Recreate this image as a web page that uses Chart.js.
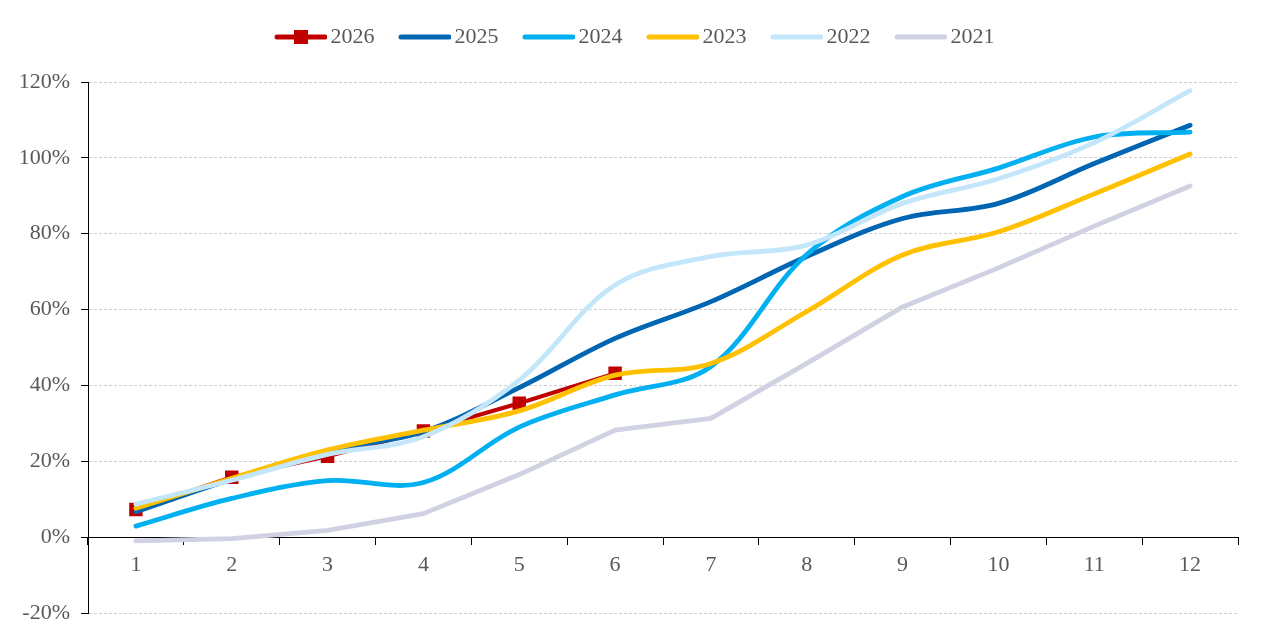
<!DOCTYPE html>
<html>
<head>
<meta charset="utf-8">
<script src="https://cdn.jsdelivr.net/npm/chart.js@4"></script>
<style>
  html, body { margin: 0; padding: 0; background: #fff; }
</style>
</head>
<body>
<canvas id="chart" width="1265" height="640"></canvas>
<script>
// months on the x axis
const months = ['1', '2', '3', '4', '5', '6', '7', '8', '9', '10', '11', '12'];

// cumulative % per year
const y2026 = [7.3, 15.8, 21.3, 28.0, 35.3, 43.2];
const y2025 = [6.7, 15.3, 22.8, 27.8, 39.4, 52.4, 62.1, 74.0, 84.0, 88.0, 98.5, 108.6];
const y2024 = [2.9, 10.2, 14.9, 14.4, 29.0, 37.5, 45.0, 74.5, 89.8, 97.3, 105.5, 106.8];
const y2023 = [7.6, 15.5, 23.0, 28.2, 33.3, 42.7, 45.8, 59.5, 74.4, 80.5, 90.5, 101.0];
const y2022 = [8.7, 15.0, 21.8, 26.5, 41.4, 66.5, 74.0, 77.0, 88.0, 94.5, 104.0, 117.7];
const y2021 = [-1.0, -0.4, 1.8, 6.2, 16.5, 28.2, 31.3, 45.8, 60.7, 71.0, 82.0, 92.6];

const seriesNames = ['2026', '2025', '2024', '2023', '2022', '2021'];
const seriesData = [y2026, y2025, y2024, y2023, y2022, y2021];
const seriesColors = ['#C00000', '#0066B3', '#00B0F0', '#FFC000', '#C3E6FB', '#D0D2E3'];

const yTicks = { min: -20, max: 120, step: 20 };

const FONT = { family: '"Liberation Serif", "Times New Roman", serif', size: 22 };
const TEXT_COLOR = '#595959';

// legend sample: a short thick line (plus square marker for 2026)
function makeIcon(color, withMarker) {
    const c = document.createElement('canvas');
    c.width = 74;
    c.height = 16;
    const g = c.getContext('2d');
    g.strokeStyle = color;
    g.lineWidth = 5;
    g.lineCap = 'round';
    g.beginPath();
    g.moveTo(24, 8);
    g.lineTo(72, 8);
    g.stroke();
    if (withMarker) {
        g.fillStyle = color;
        g.fillRect(41, 1, 14, 14);
    }
    return c;
}
const legendIcons = seriesNames.map((n, i) => makeIcon(seriesColors[i], i === 0));

const datasets = seriesNames.map((name, i) => ({
    label: name,
    data: seriesData[i],
    borderColor: seriesColors[i],
    backgroundColor: seriesColors[i],
    borderWidth: i === 0 ? 4 : 4.8,
    borderCapStyle: 'round',
    borderJoinStyle: 'round',
    tension: (i === 0 || i === 5) ? 0 : 0.35,
    pointStyle: 'rect',
    pointRadius: i === 0 ? 9.5 : 0,
    pointBorderWidth: 0,
    pointHoverRadius: 0,
    order: seriesNames.length - i,   // later years drawn on top
    fill: false
}));

const legendSpace = {
    id: 'legendSpace',
    beforeInit(chart) {
        const fit = chart.legend.fit;
        chart.legend.fit = function() {
            fit.bind(chart.legend)();
            this.height += 24;
        };
    }
};

new Chart(document.getElementById('chart'), {
    type: 'line',
    data: { labels: months, datasets: datasets },
    plugins: [legendSpace],
    options: {
        responsive: false,
        animation: false,
        layout: { padding: { top: 16, right: 27, bottom: 27, left: 17 } },
        plugins: {
            tooltip: { enabled: false },
            legend: {
                position: 'top',
                labels: {
                    usePointStyle: true,
                    pointStyleWidth: 59,
                    boxHeight: 16,
                    padding: 10,
                    color: TEXT_COLOR,
                    font: FONT,
                    sort: (a, b) => a.datasetIndex - b.datasetIndex,
                    generateLabels: (chart) => Chart.defaults.plugins.legend.labels.generateLabels(chart)
                        .map(l => Object.assign(l, { pointStyle: legendIcons[l.datasetIndex] }))
                }
            }
        },
        scales: {
            x: {
                position: { y: 0 },
                offset: true,
                grid: { drawOnChartArea: false, tickLength: 7, tickColor: '#000', offset: true },
                border: { color: '#000', width: 1 },
                ticks: { color: TEXT_COLOR, font: FONT, padding: 8, maxRotation: 0 },
                afterFit: s => { s.height = 0; }
            },
            y: {
                min: yTicks.min,
                max: yTicks.max,
                ticks: {
                    stepSize: yTicks.step,
                    color: TEXT_COLOR,
                    font: FONT,
                    padding: 11,
                    callback: v => v + '%'
                },
                grid: {
                    color: ctx => ctx.tick && ctx.tick.value === 0 ? 'rgba(0,0,0,0)' : '#CFCFCF',
                    tickColor: '#000',
                    tickLength: 7
                },
                border: { color: '#000', dash: [3, 2] },
                afterFit: s => { s.width = 71; }
            }
        }
    }
});
</script>
</body>
</html>
